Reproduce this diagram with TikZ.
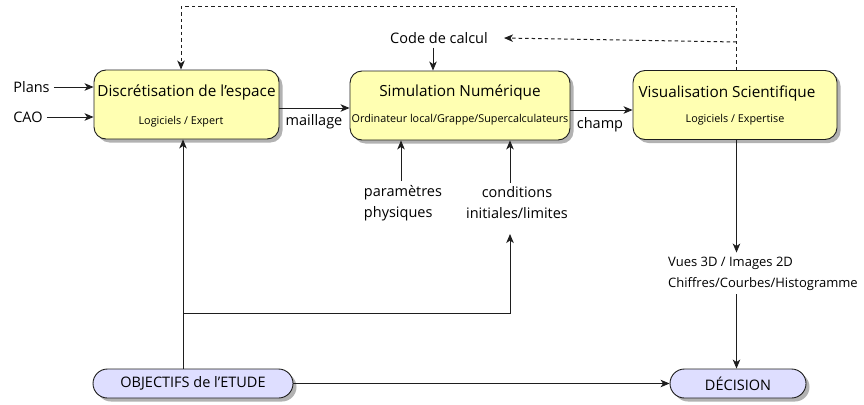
\documentclass[tikz,border=0pt]{standalone}
\usepackage{fontspec}
\setmainfont{Open Sans}
\usetikzlibrary{arrows.meta,shadows}
\definecolor{boxyellow}{RGB}{255,255,178}
\definecolor{pilllav}{RGB}{222,222,255}
\definecolor{ink}{RGB}{30,30,30}
\begin{document}
\begin{tikzpicture}[x=1pt,y=-1pt,
  font=\fontsize{14.5}{21}\selectfont,
  shad/.style={drop shadow={shadow xshift=3.5pt,shadow yshift=-3.5pt,opacity=0.3,fill=black}},
  box/.style={draw=ink,line width=0.9pt,fill=boxyellow,rounded corners=12pt,minimum height=69pt,shad},
  pill/.style={draw=ink,line width=0.9pt,fill=pilllav,rounded corners=14.5pt,minimum height=29pt,shad,inner sep=0pt},
  ttl/.style={font=\fontsize{15.3}{17}\selectfont,inner sep=0pt},
  sub/.style={font=\fontsize{10.8}{12}\selectfont,inner sep=0pt},
  lbl/.style={inner sep=4pt},
  arr/.style={-{Stealth[length=9pt,width=7.5pt,inset=2.5pt]},line width=0.9pt,draw=ink},
  darr/.style={arr,line width=1pt,dash pattern=on 3.5pt off 3pt}]
\path[use as bounding box] (0,0) rectangle (864,404);
% boxes
\node[box,minimum width=185pt] (disc) at (186.5,104.5) {};
\node[box,minimum width=220pt] (sim) at (460,105.5) {};
\node[box,minimum width=204pt] (vis) at (735,105) {};
\node[ttl] (disct) at (186.5,92) {Discrétisation de l’espace};
\node[sub] (discs) at (181,122) {Logiciels / Expert};
\node[ttl] (simt) at (460,92) {Simulation Numérique};
\node[sub] (sims) at (460,120) {Ordinateur local/Grappe/Supercalculateurs};
\node[ttl] (vist) at (727,93) {Visualisation Scientifique};
\node[sub] (viss) at (735,120) {Logiciels / Expertise};
\node[pill,minimum width=200pt] (obj) at (193,383.5) {OBJECTIFS de l’ETUDE};
\node[pill,minimum width=136pt] (dec) at (738,383.5) {DÉCISION};
% labels
\node[lbl] (plans) at (31.5,87) {Plans};
\node[lbl] (cao) at (28,117) {CAO};
\node[lbl] (code) at (439,38) {Code de calcul};
\node[lbl,align=left] (param) at (403,203) {paramètres\\physiques};
\node[lbl,align=center] (cond) at (517,203) {conditions\\initiales/limites};
\node[lbl,align=left,anchor=west,font=\fontsize{13}{21}\selectfont] (vues) at (664,273.5) {Vues 3D / Images 2D\\Chiffres/Courbes/Histogramme};
\node[inner sep=0pt] (mail) at (314,122) {maillage};
\node[inner sep=0pt] (champ) at (600,125) {champ};
% coordinates
\coordinate (yM) at (0,108);
\coordinate (yC) at (0,110);
\coordinate (xD) at (181,7);
\coordinate (xV) at (736.5,42);
\coordinate (xB) at (183,313);
\coordinate (condb) at (510,234);
\coordinate (xP) at (401,0);
\coordinate (xK) at (510,0);
\coordinate (xCode) at (433,0);
% connectors
\draw[arr] (plans.east) -- (plans.east -| disc.west);
\draw[arr] (cao.east) -- (cao.east -| disc.west);
\draw[arr] (disc.east |- yM) -- (sim.west |- yM);
\draw[arr] (sim.east |- yC) -- (vis.west |- yC);
\draw[arr] (code.south -| xCode) -- (sim.north -| xCode);
\draw[darr] (vis.north -| xV) -- (xV |- xD) -- (xD) -- (disc.north -| xD);
\draw[darr] (xV) -- ([xshift=12pt]code.east);
\draw[arr] (param.north -| xP) -- (sim.south -| xP);
\draw[arr] (cond.north -| xK) -- (sim.south -| xK);
\draw[arr] (obj.north -| xB) -- (disc.south -| xB);
\draw[arr] (xB) -| (condb);
\draw[arr] (vis.south -| xV) -- (vues.north -| xV);
\draw[arr] (vues.south -| xV) -- (dec.north -| xV);
\draw[arr] (obj.east) -- (dec.west);
\end{tikzpicture}
\end{document}
